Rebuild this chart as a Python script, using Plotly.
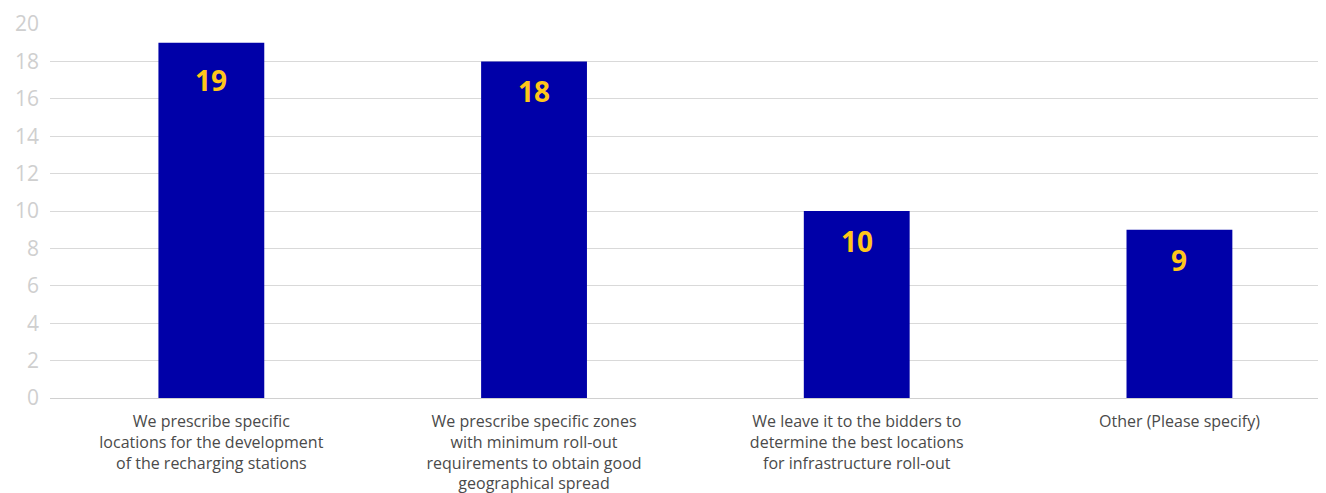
import plotly.graph_objects as go

categories = [
    "We prescribe specific<br>locations for the development<br>of the recharging stations",
    "We prescribe specific zones<br>with minimum roll-out<br>requirements to obtain good<br>geographical spread",
    "We leave it to the bidders to<br>determine the best locations<br>for infrastructure roll-out",
    "Other (Please specify)",
]
values = [19, 18, 10, 9]
tick_vals = [0, 2, 4, 6, 8, 10, 12, 14, 16, 18, 20]

label_shift = [-37, -30, -30, -30]

x_idx = list(range(len(categories)))

fig = go.Figure()
fig.add_trace(go.Bar(
    x=x_idx, y=values, width=0.328,
    marker=dict(color="#0000A8", line=dict(width=0)),
    hoverinfo="skip",
))

for i, v in enumerate(values):
    fig.add_annotation(
        x=i, y=v, text=str(v), showarrow=False, yanchor="middle",
        yshift=label_shift[i],
        font=dict(family="Open Sans", size=28, color="#FFC61A", weight="bold"),
    )

fig.update_layout(
    width=1326, height=493,
    margin=dict(l=42, r=0, t=15.5, b=102.5),
    paper_bgcolor="white", plot_bgcolor="white",
    showlegend=False,
    xaxis=dict(
        tickmode="array", tickvals=x_idx, ticktext=categories,
        range=[-0.5, 3.479], showgrid=False, zeroline=False,
        showline=False, ticks="", automargin=False, ticklabelstandoff=12,
        tickfont=dict(family="Open Sans", size=16, color="#4a4a4a"),
        tickangle=0,
    ),
    yaxis=dict(
        range=[0, 20], tickvals=tick_vals, showgrid=True,
        gridcolor="#d9d9d9", gridwidth=1, zeroline=True,
        zerolinecolor="#d0d0d0", zerolinewidth=1,
        showline=False, ticks="", ticklabelstandoff=10, automargin=False,
        tickfont=dict(family="Open Sans", size=21, color="#cfcfcf"),
    ),
)

fig.write_html("out.html")
